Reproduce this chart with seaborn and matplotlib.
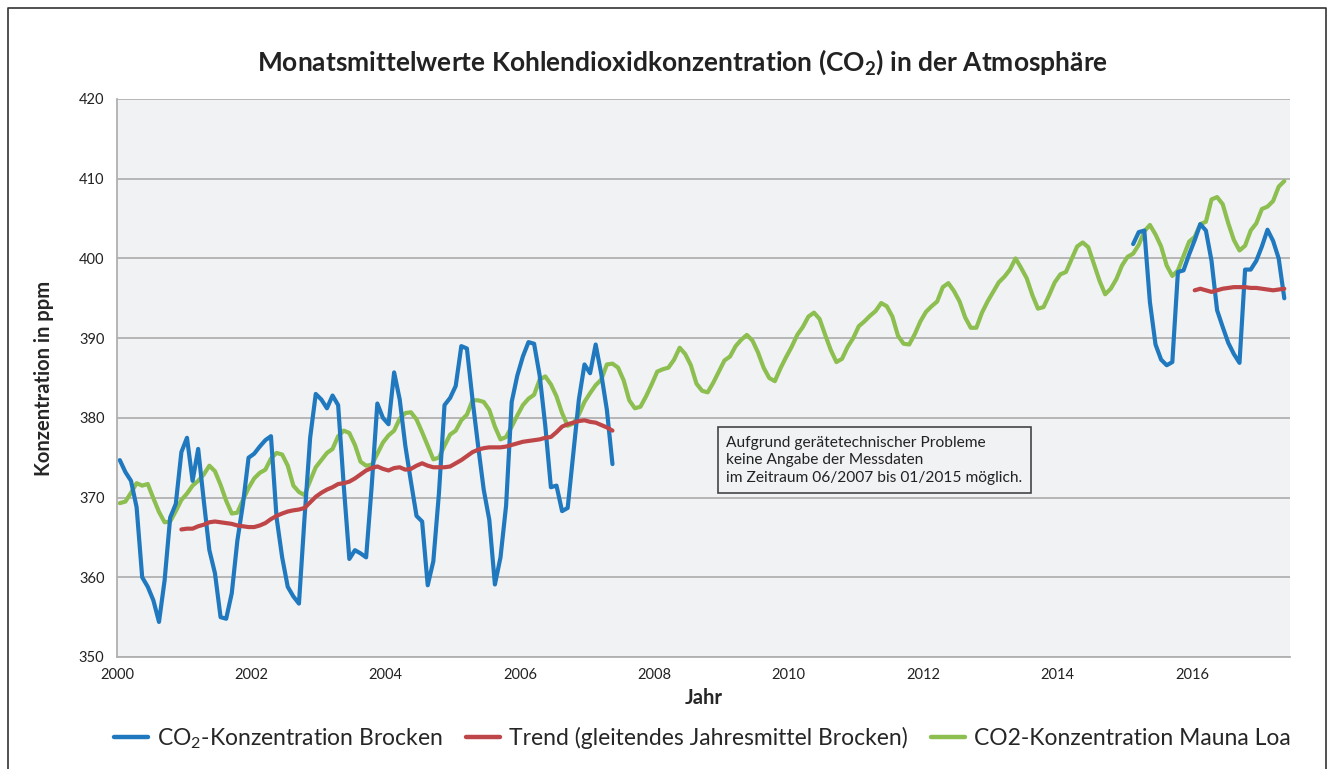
import numpy as np
import pandas as pd
import matplotlib
matplotlib.use("Agg")
import matplotlib.pyplot as plt
from matplotlib.lines import Line2D
import seaborn as sns

# === Data (monthly values) ===
# Brocken, 01/2000 - 05/2007
brocken_1 = [
    374.7, 373.2, 372.1, 368.8, 360.0, 358.8, 357.1, 354.4, 359.6, 367.5, 369.2, 375.7,
    377.5, 372.1, 376.1, 369.6, 363.4, 360.5, 355.0, 354.8, 358.0, 364.6, 369.2, 375.0,
    375.5, 376.4, 377.2, 377.7, 367.5, 362.5, 358.8, 357.6, 356.7, 367.5, 377.5, 383.0,
    382.3, 381.2, 382.8, 381.6, 371.5, 362.3, 363.4, 363.0, 362.5, 371.5, 381.8, 380.0,
    379.2, 385.7, 382.3, 376.5, 372.0, 367.7, 367.0, 359.0, 362.0, 370.5, 381.6, 382.5,
    384.0, 389.0, 388.7, 382.3, 376.5, 371.0, 367.2, 359.1, 362.5, 369.0, 382.0, 385.3,
    387.7, 389.5, 389.3, 385.3, 379.0, 371.3, 371.5, 368.3, 368.7, 375.5, 382.3, 386.7,
    385.6, 389.2, 385.5, 381.0, 374.2,
]
# Brocken, 02/2015 - 05/2017
brocken_2 = [
    401.8, 403.3, 403.5, 394.5, 389.2, 387.3, 386.6, 387.0, 398.3, 398.5, 400.5,
    402.3, 404.3, 403.5, 399.7, 393.5, 391.4, 389.4, 388.0, 386.9, 398.6, 398.6, 399.7, 401.5, 403.6, 402.2, 400.0,
    395.0,
]
# Trend (moving annual mean Brocken), 12/2000 - 05/2007
trend_1 = [
    366.0,
    366.1, 366.1, 366.4, 366.6, 366.9, 367.0, 366.9, 366.8, 366.7, 366.5, 366.4, 366.3,
    366.3, 366.5, 366.8, 367.3, 367.7, 368.0, 368.25, 368.4, 368.5, 368.7, 369.4, 370.1,
    370.6, 371.0, 371.3, 371.7, 371.8, 372.0, 372.4, 372.9, 373.4, 373.7, 373.9, 373.6,
    373.4, 373.7, 373.8, 373.5, 373.6, 374.0, 374.3, 374.0, 373.8, 373.8, 373.8, 373.9,
    374.3, 374.7, 375.2, 375.7, 376.0, 376.2, 376.3, 376.3, 376.3, 376.4, 376.6, 376.8,
    377.0, 377.1, 377.2, 377.3, 377.5, 377.6, 378.2, 378.9, 379.2, 379.4, 379.6, 379.7,
    379.5, 379.4, 379.1, 378.8, 378.4,
]
# Trend, 01/2016 - 05/2017
trend_2 = [
    396.0, 396.2, 396.0, 395.8, 396.0, 396.2, 396.3, 396.4, 396.4, 396.4, 396.3, 396.3,
    396.2, 396.1, 396.0, 396.1, 396.2,
]
# Mauna Loa, 01/2000 - 05/2017
mauna_loa = [
    369.3, 369.5, 370.6, 371.8, 371.5, 371.7, 369.9, 368.2, 366.9, 367.0, 368.3, 369.7,
    370.5, 371.5, 372.1, 372.9, 374.0, 373.3, 371.6, 369.6, 368.0, 368.1, 369.7, 371.2,
    372.4, 373.1, 373.5, 374.9, 375.6, 375.4, 374.0, 371.5, 370.7, 370.3, 372.1, 373.8,
    374.7, 375.6, 376.1, 377.7, 378.4, 378.1, 376.6, 374.5, 374.0, 374.1, 375.5, 376.9,
    377.8, 378.4, 379.9, 380.6, 380.7, 379.8, 378.2, 376.5, 374.8, 375.0, 376.5, 377.9,
    378.4, 379.7, 380.4, 382.2, 382.2, 382.0, 381.0, 378.9, 377.3, 377.6, 378.9, 380.3,
    381.6, 382.4, 382.9, 384.8, 385.2, 384.2, 382.7, 380.6, 379.0, 379.3, 380.4, 382.0,
    383.1, 384.1, 384.8, 386.7, 386.8, 386.3, 384.7, 382.2, 381.2, 381.4, 382.7, 384.2,
    385.8, 386.1, 386.3, 387.3, 388.8, 388.0, 386.6, 384.3, 383.4, 383.2, 384.4, 385.8,
    387.2, 387.7, 389.0, 389.8, 390.4, 389.7, 388.2, 386.3, 385.0, 384.6, 386.2, 387.6,
    388.9, 390.4, 391.4, 392.7, 393.2, 392.4, 390.4, 388.5, 387.0, 387.4, 388.9, 390.0,
    391.5, 392.1, 392.8, 393.4, 394.4, 394.0, 392.7, 390.3, 389.3, 389.2, 390.5, 392.1,
    393.3, 394.0, 394.6, 396.4, 396.9, 395.9, 394.6, 392.6, 391.3, 391.3, 393.2, 394.6,
    395.8, 397.0, 397.7, 398.6, 400.0, 398.8, 397.5, 395.4, 393.7, 393.9, 395.4, 397.0,
    398.0, 398.3, 399.9, 401.5, 402.0, 401.4, 399.3, 397.2, 395.5, 396.2, 397.4, 399.1,
    400.2, 400.6, 401.7, 403.4, 404.2, 403.0, 401.5, 399.1, 397.8, 398.5, 400.3, 402.1,
    402.7, 404.3, 404.6, 407.4, 407.7, 406.8, 404.4, 402.3, 401.0, 401.6, 403.5, 404.4,
    406.2, 406.5, 407.2, 409.0, 409.7,
]
# month index of the first value in each block (0 = 01/2000)
start_brocken_1, start_brocken_2 = 0, 181
start_trend_1, start_trend_2 = 11, 192
start_mauna_loa = 0

y_ticks = [350, 360, 370, 380, 390, 400, 410, 420]
x_ticks = [2000, 2002, 2004, 2006, 2008, 2010, 2012, 2014, 2016]

labels = ["CO$_2$-Konzentration Brocken",
          "Trend (gleitendes Jahresmittel Brocken)",
          "CO2-Konzentration Mauna Loa"]
note = ("Aufgrund gerätetechnischer Probleme\n"
        "keine Angabe der Messdaten\n"
        "im Zeitraum 06/2007 bis 01/2015 möglich.")

colors = ["#2079BF", "#BF4648", "#8CBE50"]


def block(values, start, seg):
    idx = np.arange(start, start + len(values))
    return pd.DataFrame({"jahr": 2000 + (idx + 0.5) / 12, "ppm": values, "segment": seg})


brocken_df = pd.concat([block(brocken_1, start_brocken_1, 1), block(brocken_2, start_brocken_2, 2)])
trend_df = pd.concat([block(trend_1, start_trend_1, 1), block(trend_2, start_trend_2, 2)])
mauna_df = block(mauna_loa, start_mauna_loa, 1)

# === Style ===
sns.set_style("white")
plt.rcParams["font.family"] = ["Lato", "DejaVu Sans"]
plt.rcParams["mathtext.default"] = "regular"

fig = plt.figure(figsize=(13.33, 7.69), dpi=100)
ax = fig.add_axes([117 / 1333, 1 - 657 / 769, (1290 - 117) / 1333, (657 - 99) / 769])
ax.set_facecolor("#F1F2F4")

lw = 3.0
sns.lineplot(data=mauna_df, x="jahr", y="ppm", units="segment", estimator=None,
             color=colors[2], lw=lw, ax=ax, legend=False)
sns.lineplot(data=brocken_df, x="jahr", y="ppm", units="segment", estimator=None,
             color=colors[0], lw=lw, ax=ax, legend=False)
sns.lineplot(data=trend_df, x="jahr", y="ppm", units="segment", estimator=None,
             color=colors[1], lw=lw, ax=ax, legend=False)

ax.set_xlim(2000, 2017.46)
ax.set_ylim(350, 420)
ax.set_yticks(y_ticks)
ax.set_xticks(x_ticks)
ax.yaxis.grid(True, color="#A6A6A6", lw=1.1)
ax.set_axisbelow(True)
for s in ["top", "right"]:
    ax.spines[s].set_visible(False)
for s in ["left", "bottom"]:
    ax.spines[s].set_color("#B0B0B0")
    ax.spines[s].set_linewidth(1.3)
ax.tick_params(axis="both", which="both", direction="out", length=5, width=1,
               color="#A6A6A6", labelsize=10.5, labelcolor="#222222", pad=4)
ax.tick_params(axis="x", length=0, pad=8)

ax.set_xlabel("Jahr", fontsize=14.5, fontweight="bold", labelpad=4)
ax.set_ylabel("Konzentration in ppm", fontsize=14.5, fontweight="bold", labelpad=18)

ax.text(0.5195, 0.396, note, transform=ax.transAxes, fontsize=11.2, va="top", ha="left",
        linespacing=1.3, color="#222222",
        bbox=dict(boxstyle="square,pad=0.55", fc="none", ec="#444444", lw=1.2))

fig.text(0.512, 0.919, "Monatsmittelwerte Kohlendioxidkonzentration (CO$_2$) in der Atmosphäre",
         ha="center", va="center", fontsize=19, fontweight="bold", color="#222222")

handles = [Line2D([0], [0], color=c, lw=3.2) for c in colors]
fig.legend(handles, labels, loc="center", bbox_to_anchor=(0.527, 0.04), ncol=3,
           frameon=False, fontsize=16.5, handlelength=1.5, handletextpad=0.4, columnspacing=1.0)

# frame round the figure (open at the bottom)
fig.add_artist(Line2D([8 / 1333, 8 / 1333, 1326 / 1333, 1326 / 1333],
                      [0, 1 - 8 / 769, 1 - 8 / 769, 0], transform=fig.transFigure,
                      color="#333333", lw=1.2))

fig.savefig("out.png", dpi=100)
